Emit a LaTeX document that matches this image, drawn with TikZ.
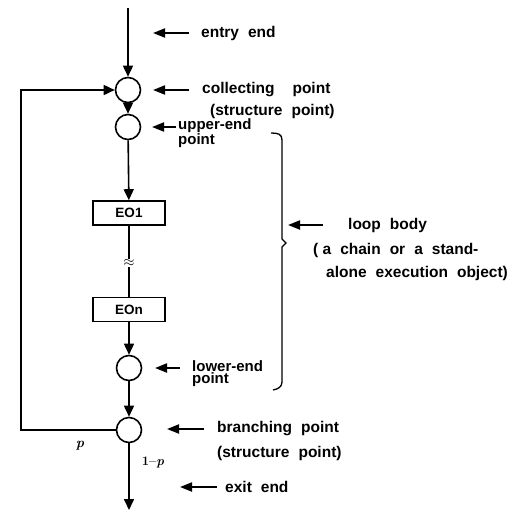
\documentclass[tikz,border=0pt]{standalone}
\usepackage{fontspec}
\newfontfamily\lbl[BoldFont={Liberation Sans Bold}]{Liberation Sans}
\newcommand\wg{\hspace{9pt}}
\newcommand\wgg{\hspace{18pt}}
\usetikzlibrary{arrows.meta}
\begin{document}
\begin{tikzpicture}[x=1pt,y=-1pt,
  ln/.style={line width=1.6pt},
  arr/.style={ln,-{Triangle[length=11pt,width=10pt]}},
  larr/.style={line width=2pt,-{Triangle[length=12pt,width=9pt]}},
  pt/.style={circle,draw,line width=1.6pt,minimum size=25pt,inner sep=0pt},
  eo/.style={draw,line width=1.6pt,minimum width=72pt,minimum height=24pt,inner sep=0pt,font=\lbl\bfseries\fontsize{13.5}{15}\selectfont},
  txt/.style={anchor=west,inner sep=0pt,align=left,font=\lbl\bfseries\fontsize{15.5}{17}\selectfont},
  txt2/.style={anchor=west,inner sep=0pt,align=left,font=\lbl\bfseries\fontsize{15}{12}\selectfont}]
\useasboundingbox (0,0) rectangle (521,512);
% main chain
\coordinate (top) at (128,8);
\node[pt] (c1) at (128,90) {};
\node[pt] (c2) at (128,127) {};
\node[eo] (eo1) at (129,213) {EO1};
\node[eo] (eon) at (129,309.5) {EOn};
\node[pt] (c3) at (129,368) {};
\node[pt] (c4) at (129,430) {};
\coordinate (exit) at (129,510);
\coordinate (bl) at (21,430);
\coordinate (tl) at (21,90);
\draw[arr] (top) -- (c1);
\draw[arr] (c1) -- (c2);
\draw[arr] (c2) -- (eo1);
\draw[ln] (eo1) -- (eon);
\node[fill=white,inner sep=0.3pt,font=\Large\bfseries] (apx) at (129,263) {$\approx$};
\draw[arr] (eon) -- (c3);
\draw[arr] (c3) -- (c4);
\draw[arr] (c4) -- (exit);
\draw[arr] (c4.west) -- (bl) -- (tl) -- (c1.west);
\node[inner sep=0pt,font=\fontsize{14}{15}\selectfont\bfseries\itshape] (plab) at (80,446) {p};
\node[inner sep=0pt,font=\fontsize{13}{14}\selectfont\bfseries] (qlab) at (153,462) {1--\textit{p}};
% labels
\coordinate (a1s) at (189,33); \coordinate (a1e) at (153,33);
\draw[larr] (a1s) -- (a1e);
\node[txt] (t1) at (201,33) {entry\wg end};
\coordinate (a2s) at (189,90); \coordinate (a2e) at (153,90);
\draw[larr] (a2s) -- (a2e);
\node[txt] (t2) at (202,90) {collecting\wgg point};
\node[txt] (t2b) at (210,111) {(structure\wg point)};
\coordinate (a3s) at (176,127); \coordinate (a3e) at (152,127);
\draw[larr] (a3s) -- (a3e);
\node[txt2] (t3) at (178,133) {upper-end\\point};
% brace
\draw[line width=1.3pt] (271,133) .. controls (278,133) and (282,134) .. (282,140) -- (282,239) -- (286,243) -- (282,247) -- (282,382) .. controls (282,387) and (278,389) .. (273,390);
\coordinate (a4s) at (323,225); \coordinate (a4e) at (288,225);
\draw[larr] (a4s) -- (a4e);
\node[txt] (t4) at (348,225) {loop\wg body};
\node[txt] (t4b) at (313,250) {( a\wg chain\wg or\wg a\wg stand-};
\node[txt] (t4c) at (326,273) {alone\wg execution\wg object)};
\coordinate (a5s) at (180,368); \coordinate (a5e) at (155,368);
\draw[larr] (a5s) -- (a5e);
\node[txt2] (t5) at (192,374) {lower-end\\point};
\coordinate (a6s) at (204,429); \coordinate (a6e) at (167,429);
\draw[larr] (a6s) -- (a6e);
\node[txt] (t6) at (217,429) {branching\wg point};
\node[txt] (t6b) at (217,453) {(structure\wg point)};
\coordinate (a7s) at (217,487); \coordinate (a7e) at (180,487);
\draw[larr] (a7s) -- (a7e);
\node[txt] (t7) at (225,487) {exit\wg end};
\end{tikzpicture}
\end{document}
